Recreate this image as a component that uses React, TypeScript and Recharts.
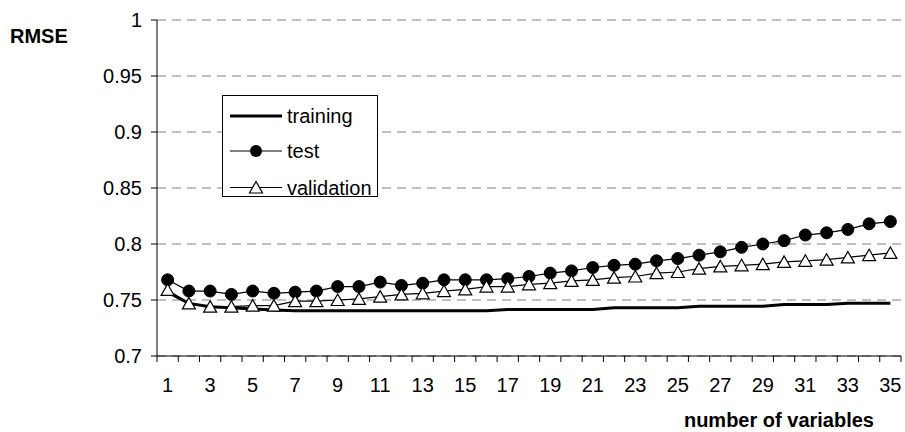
import React from 'react';
import { LineChart, Line, XAxis, YAxis, CartesianGrid, Legend } from 'recharts';

const categories = [1, 2, 3, 4, 5, 6, 7, 8, 9, 10, 11, 12, 13, 14, 15, 16, 17, 18, 19, 20, 21, 22, 23, 24, 25, 26, 27, 28, 29, 30, 31, 32, 33, 34, 35];

const training = [0.757, 0.747, 0.744, 0.743, 0.742, 0.741, 0.7405, 0.7405, 0.7405, 0.7405, 0.7405, 0.7405, 0.7405, 0.7405, 0.7405, 0.7405, 0.7415, 0.7415, 0.7415, 0.7415, 0.7415, 0.743, 0.743, 0.743, 0.743, 0.7445, 0.7445, 0.7445, 0.7445, 0.746, 0.746, 0.746, 0.747, 0.747, 0.747];

const test = [0.768, 0.758, 0.758, 0.755, 0.758, 0.756, 0.757, 0.758, 0.762, 0.762, 0.766, 0.763, 0.765, 0.768, 0.768, 0.768, 0.769, 0.771, 0.774, 0.776, 0.779, 0.781, 0.782, 0.785, 0.787, 0.790, 0.793, 0.797, 0.800, 0.803, 0.808, 0.810, 0.813, 0.818, 0.820];

const validation = [0.759, 0.747, 0.744, 0.744, 0.745, 0.745, 0.749, 0.749, 0.750, 0.751, 0.753, 0.755, 0.756, 0.758, 0.7595, 0.762, 0.762, 0.764, 0.765, 0.767, 0.768, 0.770, 0.771, 0.774, 0.775, 0.778, 0.780, 0.781, 0.782, 0.784, 0.785, 0.786, 0.788, 0.790, 0.792];

const seriesNames = ['training', 'test', 'validation'];
const yTicks = [0.7, 0.75, 0.8, 0.85, 0.9, 0.95, 1];
const xLabelTicks = [1, 3, 5, 7, 9, 11, 13, 15, 17, 19, 21, 23, 25, 27, 29, 31, 33, 35];
const yTitle = 'RMSE';
const xTitle = 'number of variables';

const data = categories.map((n, i) => ({
  n,
  training: training[i],
  test: test[i],
  validation: validation[i],
}));

// tick marks sit between categories (Excel style)
const boundaryTicks = [categories[0] - 0.5, ...categories.map((c) => c + 0.5)];

const FONT = '"Liberation Sans", Arial, sans-serif';

// layout constants
const CHART_W = 905;
const CHART_H = 432;
const MARGIN = { top: 20, right: 4, left: 0, bottom: 0 };
const Y_AXIS_W = 157;
const X_AXIS_H = 76;
const PLOT_W = CHART_W - MARGIN.left - MARGIN.right - Y_AXIS_W;
const STEP = PLOT_W / categories.length;

const Triangle = (props: any) => {
  const { cx, cy } = props;
  if (cx == null || cy == null) return null;
  return (
    <polygon
      points={`${cx},${cy - 6} ${cx - 6.5},${cy + 5.5} ${cx + 6.5},${cy + 5.5}`}
      fill="#fff"
      stroke="#000"
      strokeWidth={1.2}
    />
  );
};

const Circle = (props: any) => {
  const { cx, cy } = props;
  if (cx == null || cy == null) return null;
  return <circle cx={cx} cy={cy} r={6} fill="#000" stroke="#000" strokeWidth={1} />;
};

// tick at boundary v labels the category v + 0.5 (to its right)
const XTick = (props: any) => {
  const { x, y, payload } = props;
  const cat = payload.value + 0.5;
  if (!xLabelTicks.includes(cat)) return <g />;
  return (
    <text x={x + STEP / 2} y={y} dy="0.71em" textAnchor="middle" fontFamily={FONT} fontSize={20} fill="#000">
      {cat}
    </text>
  );
};

const renderLegend = () => {
  const rows = [20, 55, 91.5];
  return (
    <div
      style={{
        boxSizing: 'border-box',
        width: 156,
        height: 102,
        border: '1px solid #000',
        background: '#fff',
      }}
    >
      <svg width={154} height={100} style={{ display: 'block', overflow: 'visible' }}>
        {seriesNames.map((name, i) => (
          <g key={name}>
            <line x1={7} x2={59} y1={rows[i]} y2={rows[i]} stroke="#000" strokeWidth={i === 0 ? 3 : 1.2} />
            {i === 1 && <circle cx={33} cy={rows[i]} r={6} fill="#000" />}
            {i === 2 && (
              <polygon
                points={`33,${rows[i] - 6} 26.5,${rows[i] + 5.5} 39.5,${rows[i] + 5.5}`}
                fill="#fff"
                stroke="#000"
                strokeWidth={1.2}
              />
            )}
            <text x={64} y={rows[i] + 7} fontFamily={FONT} fontSize={20} fill="#000">
              {name}
            </text>
          </g>
        ))}
      </svg>
    </div>
  );
};

const XTitle = (props: any) => {
  const { viewBox } = props;
  return (
    <text
      x={viewBox.x + viewBox.width - 27}
      y={427}
      textAnchor="end"
      fontFamily={FONT}
      fontSize={20}
      fontWeight="bold"
      fill="#000"
    >
      {xTitle}
    </text>
  );
};

const YTitle = () => (
  <text x={10} y={43} fontFamily={FONT} fontSize={20} fontWeight="bold" fill="#000">
    {yTitle}
  </text>
);

export default function App() {
  return (
    <div style={{ position: 'absolute', left: 0, top: 0, width: CHART_W, height: CHART_H, background: '#fff' }}>
      <LineChart width={CHART_W} height={CHART_H} data={data} margin={MARGIN}>
        <CartesianGrid vertical={false} stroke="#808080" strokeDasharray="9 6" />
        <XAxis
          dataKey="n"
          type="number"
          domain={[0.5, 35.5]}
          ticks={boundaryTicks}
          interval={0}
          height={X_AXIS_H}
          axisLine={{ stroke: '#000', strokeWidth: 1 }}
          tickLine={{ stroke: '#000', strokeWidth: 1 }}
          tickSize={6}
          tickMargin={16}
          tick={<XTick />}
          label={<XTitle />}
          allowDataOverflow
        />
        <YAxis
          type="number"
          domain={[0.7, 1]}
          ticks={yTicks}
          interval={0}
          width={Y_AXIS_W}
          axisLine={{ stroke: '#000', strokeWidth: 1 }}
          tickLine={{ stroke: '#000', strokeWidth: 1 }}
          tickSize={6}
          tickMargin={9}
          tick={{ fontFamily: FONT, fontSize: 20, fill: '#000' }}
          label={<YTitle />}
        />
        <Legend
          layout="vertical"
          align="center"
          verticalAlign="middle"
          content={renderLegend}
          wrapperStyle={{ left: 222, top: 95, width: 156, height: 102 }}
        />
        <Line type="linear" dataKey="training" stroke="#000" strokeWidth={3} dot={false} isAnimationActive={false} />
        <Line type="linear" dataKey="test" stroke="#000" strokeWidth={1.2} dot={<Circle />} isAnimationActive={false} />
        <Line
          type="linear"
          dataKey="validation"
          stroke="#000"
          strokeWidth={1.2}
          dot={<Triangle />}
          isAnimationActive={false}
        />
      </LineChart>
    </div>
  );
}
